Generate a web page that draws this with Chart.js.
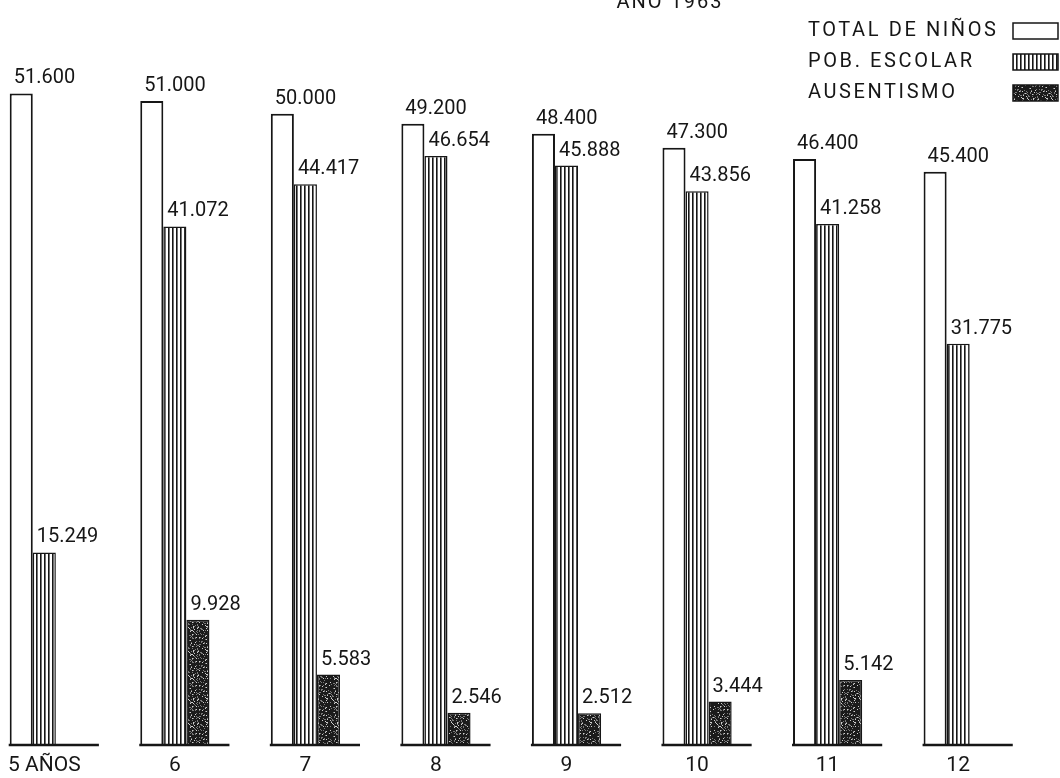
<!DOCTYPE html>
<html>
<head>
<meta charset="utf-8">
<script src="https://cdn.jsdelivr.net/npm/chart.js@4.4.1/dist/chart.umd.min.js"></script>
<style>
  html, body { margin: 0; background: #fff; }
  #wrap { width: 1060px; height: 778px; }
</style>
</head>
<body>
<div id="wrap"><canvas id="chart"></canvas></div>
<script>
const title = "AÑO 1963";
const ages = [5, 6, 7, 8, 9, 10, 11, 12];
const ageLabels = ["5 AÑOS", "6", "7", "8", "9", "10", "11", "12"];
const seriesNames = ["TOTAL DE NIÑOS", "POB. ESCOLAR", "AUSENTISMO"];
const totalNinos = [51600, 51000, 50000, 49200, 48400, 47300, 46400, 45400];
const pobEscolar = [15249, 41072, 44417, 46654, 45888, 43856, 41258, 31775];
const ausentismo = [null, 9928, 5583, 2546, 2512, 3444, 5142, null];

const FONT = "Roboto, 'Liberation Sans', sans-serif";
const INK = "#161616";

// thousands with a dot, as in the original
const fmt = (n) => String(n).replace(/\B(?=(\d{3})+(?!\d))/g, ".");

// vertical hatch for the school population bars
function makeHatch() {
  const c = document.createElement("canvas");
  c.width = 4; c.height = 4;
  const x = c.getContext("2d");
  x.fillStyle = "#fff";
  x.fillRect(0, 0, 4, 4);
  x.fillStyle = INK;
  x.fillRect(0, 0, 1.6, 4);
  return x.createPattern(c, "repeat");
}

// dark stipple for absenteeism (fixed hash, no randomness)
function stipplePattern() {
  const s = 24;
  const c = document.createElement("canvas");
  c.width = s; c.height = s;
  const x = c.getContext("2d");
  x.fillStyle = "#1b1b1b";
  x.fillRect(0, 0, s, s);
  for (let i = 0; i < s * s; i++) {
    const h = Math.abs(Math.sin(i * 12.9898 + 78.233) * 43758.5453) % 1;
    if (h < 0.2) {
      x.fillStyle = h < 0.07 ? "#cfcfcf" : "#7a7a7a";
      x.fillRect(i % s, Math.floor(i / s), 1, 1);
    }
  }
  return x.createPattern(c, "repeat");
}

const fills = ["#ffffff", makeHatch(), stipplePattern()];
const series = [totalNinos, pobEscolar, ausentismo];

const groundPlugin = {
  id: "ground",
  afterDatasetsDraw(chart) {
    const ctx = chart.ctx;
    const xs = chart.scales.x, ys = chart.scales.y;
    const bw = chart.getDatasetMeta(0).data[0].width;
    const base = ys.getPixelForValue(0);
    ctx.save();
    ctx.strokeStyle = INK;
    ctx.lineWidth = 2.5;
    ages.forEach((a) => {
      const cx = xs.getPixelForValue(a);
      ctx.beginPath();
      ctx.moveTo(cx - 1.5 * bw - 1, base);
      ctx.lineTo(cx + 1.5 * bw + 20, base);
      ctx.stroke();
    });
    // value labels above each bar
    ctx.font = "20px " + FONT;
    ctx.fillStyle = INK;
    ctx.textAlign = "left";
    ctx.textBaseline = "bottom";
    chart.data.datasets.forEach((ds, di) => {
      chart.getDatasetMeta(di).data.forEach((bar, i) => {
        const v = series[di][i];
        if (v == null) return;
        ctx.fillText(fmt(v), bar.x - bar.width / 2 + 4, bar.y - 5);
      });
    });
    ctx.restore();
  },
  afterDraw(chart) {
    const ctx = chart.ctx;
    const right = chart.chartArea.right;
    ctx.save();
    ctx.fillStyle = INK;
    ctx.font = "20px " + FONT;
    ctx.textAlign = "center";
    ctx.textBaseline = "alphabetic";
    ctx.letterSpacing = "2px";
    ctx.fillText(title, 670, 8);
    // legend: text first, swatch on the right
    ctx.textAlign = "left";
    ctx.textBaseline = "middle";
    ctx.letterSpacing = "2.6px";
    seriesNames.forEach((name, i) => {
      const y = 31 + i * 31;
      ctx.fillStyle = INK;
      ctx.fillText(name, right - 252, y);
      ctx.fillStyle = fills[i];
      ctx.fillRect(right - 47, y - 8, 45, 16);
      ctx.strokeStyle = INK;
      ctx.lineWidth = 1.5;
      ctx.strokeRect(right - 47, y - 8, 45, 16);
    });
    ctx.restore();
  }
};

new Chart(document.getElementById("chart"), {
  type: "bar",
  data: {
    datasets: series.map((vals, di) => ({
      label: seriesNames[di],
      data: ages.map((a, i) => ({ x: a, y: vals[i] })),
      backgroundColor: fills[di],
      borderColor: INK,
      borderWidth: di === 0 ? 2 : 1.5,
      categoryPercentage: 0.53,
      barPercentage: 1.0
    }))
  },
  options: {
    responsive: true,
    maintainAspectRatio: false,
    animation: false,
    layout: { padding: 0 },
    plugins: {
      legend: { display: false },
      tooltip: { enabled: false }
    },
    scales: {
      x: {
        type: "linear",
        min: 4.663,
        max: 12.78,
        offset: false,
        grid: { display: false, drawTicks: false },
        border: { display: false },
        afterBuildTicks: (scale) => { scale.ticks = ages.map((a) => ({ value: a })); },
        afterFit: (scale) => { scale.height = 33; },
        ticks: {
          autoSkip: false,
          maxRotation: 0,
          padding: 8,
          color: INK,
          font: { family: FONT, size: 21 },
          callback: (v) => ageLabels[ages.indexOf(v)]
        }
      },
      y: {
        display: false,
        min: 0,
        max: 59000
      }
    }
  },
  plugins: [groundPlugin]
});
</script>
</body>
</html>
